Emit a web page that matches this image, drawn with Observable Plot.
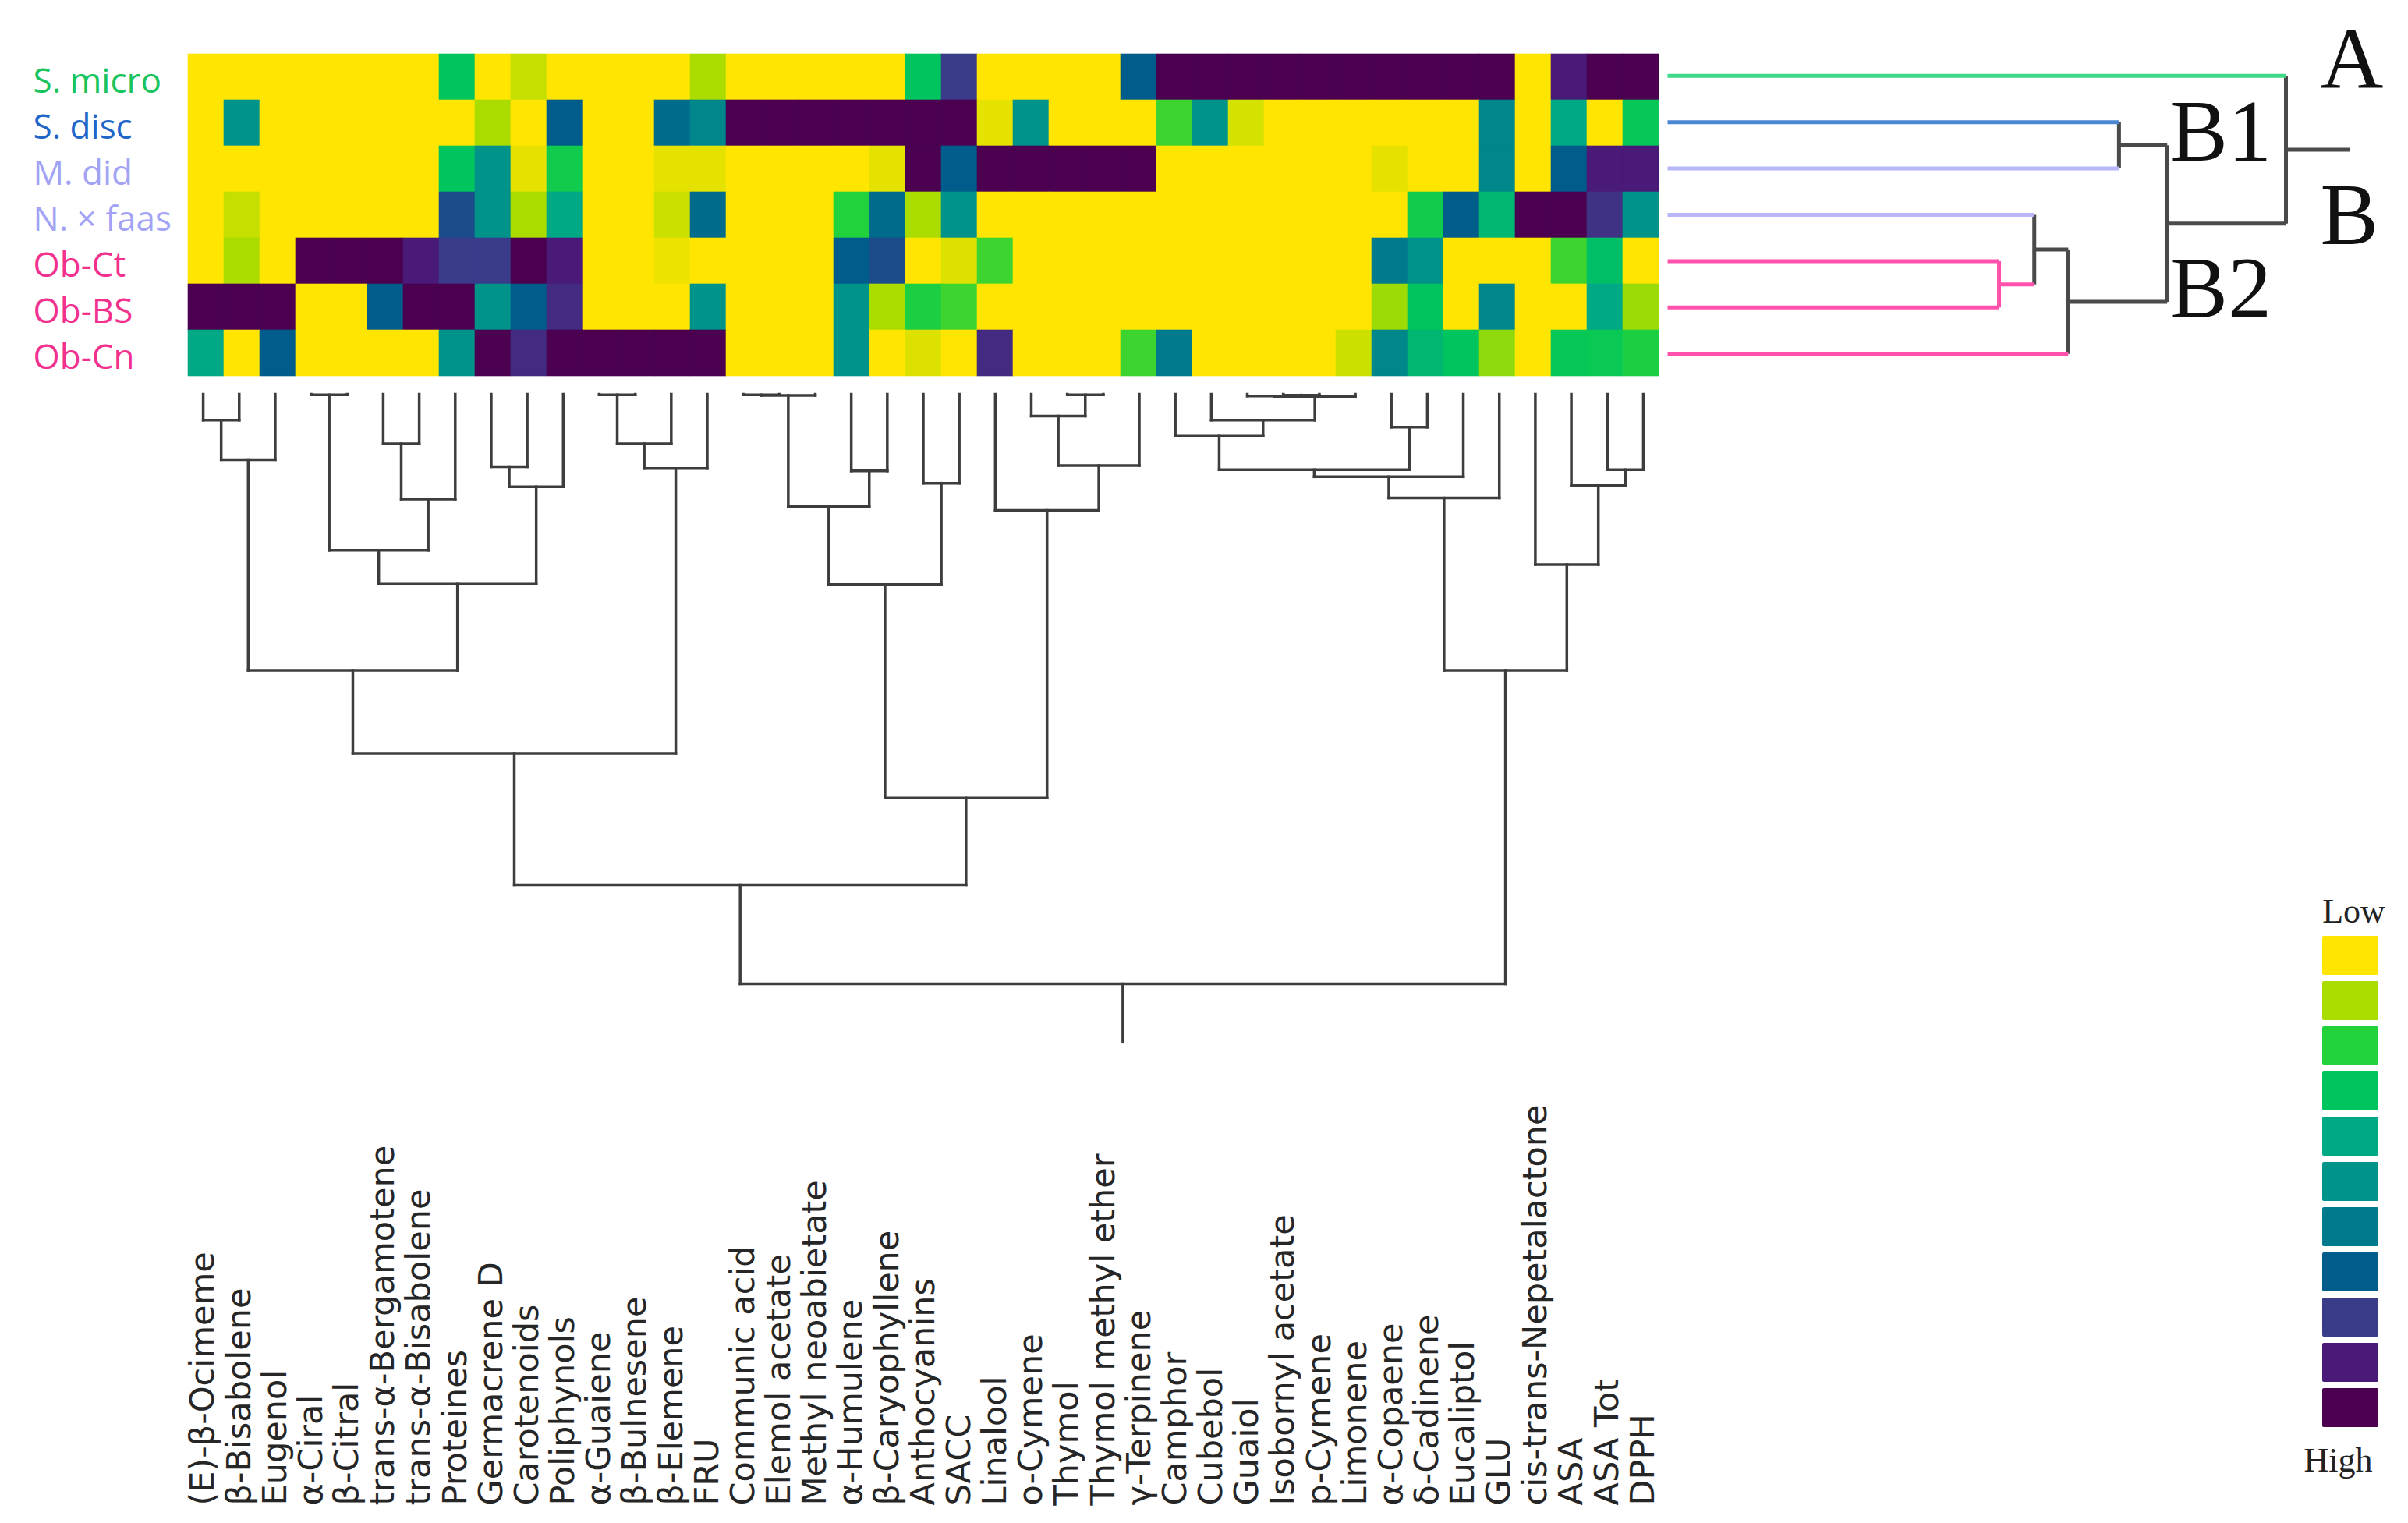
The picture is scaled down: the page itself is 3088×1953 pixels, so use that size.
<!DOCTYPE html>
<html>
<head>
<meta charset="utf-8">
<script src="https://cdn.jsdelivr.net/npm/d3@7"></script>
<script src="https://cdn.jsdelivr.net/npm/@observablehq/plot@0.6"></script>
<style>
  body { margin: 0; background: #fff; }
  #chart { position: relative; width: 3088px; height: 1953px; background: #fff; overflow: hidden; }
  #chart svg { position: absolute; max-width: none; overflow: visible; background: transparent; }
</style>
</head>
<body>
<div id="chart"></div>
<script>
// ---------------- DATA ----------------
const compounds = [
  "(E)-β-Ocimeme", "β-Bisabolene", "Eugenol", "α-Ciral", "β-Citral",
  "trans-α-Bergamotene", "trans-α-Bisabolene", "Proteines", "Germacrene D", "Carotenoids",
  "Poliphynols", "α-Guaiene", "β-Bulnesene", "β-Elemene", "FRU",
  "Communic acid", "Elemol acetate", "Methyl neoabietate", "α-Humulene", "β-Caryophyllene",
  "Anthocyanins", "SACC", "Linalool", "o-Cymene", "Thymol",
  "Thymol methyl ether", "γ-Terpinene", "Camphor", "Cubebol", "Guaiol",
  "Isobornyl acetate", "p-Cymene", "Limonene", "α-Copaene", "δ-Cadinene",
  "Eucaliptol", "GLU", "cis-trans-Nepetalactone", "ASA", "ASA Tot", "DPPH"
];

const species = ["S. micro", "S. disc", "M. did", "N. × faas", "Ob-Ct", "Ob-BS", "Ob-Cn"];
const speciesGroup = ["micro", "disc", "did", "did", "ob", "ob", "ob"];

// relative level, 0 = Low (yellow) ... 10 = High (dark purple)
const sMicro = [0,0,0,0,0,0,0,3,0,0.7, 0,0,0,0,1,0,0,0,0,0, 3,8,0,0,0,0,7,10,10,10, 10,10,10,10,10,10,10,0,9,10,10];
const sDisc  = [0,5,0,0,0,0,0,0,1,0, 7,0,0,6.5,5.5,10,10,10,10,10, 10,10,0.3,5,0,0,0,1.8,5,0.5, 0,0,0,0,0,0,5.5,0,4,0,2.8];
const mDid   = [0,0,0,0,0,0,0,3,5,0.3, 2.5,0,0,0.3,0.3,0,0,0,0,0.3, 10,7,10,10,10,10,10,0,0,0, 0,0,0,0.3,0,0,5.5,0,7,9,9];
const nFaas  = [0,0.7,0,0,0,0,0,7.5,5,1, 4,0,0,0.6,6.5,0,0,0,2,6.5, 1,5,0,0,0,0,0,0,0,0, 0,0,0,0,2.5,7,3.5,10,10,8.3,5];
const obCt   = [0,1,0,10,10,10,9,8,8,10, 9,0,0,0.2,0,0,0,0,7,7.5, 0,0.4,1.8,0,0,0,0,0,0,0, 0,0,0,6,5,0,0,0,1.8,3.2,0];
const obBS   = [10,10,10,0,0,7,10,10,5,7, 8.5,0,0,0,5,0,0,0,5,1, 2.2,1.8,0,0,0,0,0,0,0,0, 0,0,0,1.1,3,0,5.5,0,0,4,1.1];
const obCn   = [4,0,7,0,0,0,0,5,10,8.5, 10,10,10,10,10,0,0,0,5,0, 0.4,0,8.5,0,0,0,1.8,6,0,0, 0,0,0.6,5.5,3.5,3,1.2,0,2.8,2.7,2.2];

// legend levels
const legendLevels = [0,1,2,3,4,5,6,7,8,9,10];
const legendLow = "Low";
const legendHigh = "High";

// column dendrogram: [childA, childB, height]; leaves 0..40, merged nodes 41..
const colMerges = [
  [0,1,4.4],[41,2,11.1],[3,4,0.1],[5,6,8.4],[44,7,17.8],[43,45,26.5],[8,9,12.3],[47,10,15.7],
  [46,48,32.1],[42,49,46.9],[11,12,0.1],[51,13,8.4],[52,14,12.6],[50,53,60.9],[15,16,0.1],[55,17,0.2],
  [18,19,13.0],[56,57,19.0],[20,21,15.1],[58,59,32.3],[24,25,0.1],[23,61,3.7],[62,26,12.1],[22,63,19.7],
  [60,64,68.5],[54,65,83.2],[30,31,0.15],[29,67,0.3],[68,32,0.4],[28,69,4.4],[27,70,7.1],[33,34,5.6],
  [71,72,12.8],[73,35,14.0],[74,36,17.6],[39,40,12.8],[38,76,15.5],[37,77,28.9],[75,78,46.9],[66,79,100]
];
const colRootStub = 9.9;

// row dendrogram: leaves 0..6 (species), merged nodes 7..
const rowMerges = [[4,5,53.6],[3,7,59.3],[8,6,64.8],[1,2,73.0],[10,9,80.8],[0,11,100]];
const rowRootStub = 10.3;
const clusterNames = ["A", "B", "B1", "B2"];

// ---------------- STYLE ----------------
const legendColors = ["#ffe500","#aadc00","#22d23c","#00c45e","#00a985","#00938a","#007a8c","#005c8a","#3a3c8a","#4a1a78","#4b0050"];
const labelColor = {micro: "#19c45c", disc: "#1f66c8", did: "#a3a3f5", ob: "#f2318f"};
const lineColor  = {micro: "#3ed987", disc: "#4a86d2", did: "#b6b6f9", ob: "#ff52ac"};
const gray = "#4a4a4a";
const colorScale = {type: "linear", domain: legendLevels, range: legendColors, interpolate: "rgb"};

const chart = document.getElementById("chart");
function place(svg, left, top) {
  svg.style.left = left + "px";
  svg.style.top = top + "px";
  chart.appendChild(svg);
}

function layoutTree(merges, nLeaves) {
  const pos = d3.range(nLeaves);
  const ht = new Array(nLeaves).fill(0);
  const nodes = [];
  merges.forEach(([a, b, h], k) => {
    const id = nLeaves + k;
    pos[id] = (pos[a] + pos[b]) / 2;
    ht[id] = h;
    nodes.push({id, a, b, h});
  });
  return {pos, ht, nodes};
}

// ---------------- HEATMAP ----------------
const rows = [sMicro, sDisc, mDid, nFaas, obCt, obBS, obCn];
const cells = rows.flatMap((vals, r) => vals.map((v, c) => ({species: species[r], compound: compounds[c], value: v})));

const heat = Plot.plot({
  width: 2130, height: 490,
  marginLeft: 237, marginRight: 0, marginTop: 67, marginBottom: 7,
  x: {type: "band", domain: compounds, padding: 0, axis: null},
  y: {type: "band", domain: species, padding: 0, axis: null},
  color: colorScale,
  marks: [
    Plot.cell(cells, {x: "compound", y: "species", fill: "value", stroke: "value", strokeWidth: 0.6}),
    ...species.map((s, i) => Plot.text([s], {
      y: d => d, frameAnchor: "left", textAnchor: "start", dx: -195, dy: 6,
      fill: labelColor[speciesGroup[i]], fontSize: 44, fontFamily: "Open Sans"
    }))
  ]
});
place(heat, 0, 0);

// ---------------- COLUMN DENDROGRAM + LABELS ----------------
const colTree = layoutTree(colMerges, compounds.length);
const colSegs = [];
colTree.nodes.forEach(n => {
  colSegs.push({x1: colTree.pos[n.a], x2: colTree.pos[n.b], y1: n.h, y2: n.h});
  for (const c of [n.a, n.b]) colSegs.push({x1: colTree.pos[c], x2: colTree.pos[c], y1: colTree.ht[c], y2: n.h});
});
const colRoot = colTree.nodes[colTree.nodes.length - 1];
colSegs.push({x1: colTree.pos[colRoot.id], x2: colTree.pos[colRoot.id], y1: colRoot.h, y2: colRoot.h + colRootStub});

const dendro = Plot.plot({
  width: 2150, height: 1463,
  marginLeft: 237, marginRight: 20, marginTop: 15, marginBottom: 23,
  x: {domain: [-0.5, compounds.length - 0.5], axis: null},
  y: {domain: [0, 100], range: [15, 771], axis: null},
  marks: [
    Plot.link(colSegs, {x1: "x1", y1: "y1", x2: "x2", y2: "y2", stroke: "#3d3d3d", strokeWidth: 3.5, strokeLinecap: "square"}),
    Plot.text(compounds, {
      x: (d, i) => i, frameAnchor: "bottom", rotate: -90, textAnchor: "start", lineAnchor: "middle",
      fontSize: 43, fontFamily: "DejaVu Sans", fill: "#262626"
    })
  ]
});
place(dendro, 0, 490);

// ---------------- ROW DENDROGRAM ----------------
const rowTree = layoutTree(rowMerges, species.length);
const nodeColor = species.map((s, i) => lineColor[speciesGroup[i]]);
const isLeafColored = species.map(() => true);
rowTree.nodes.forEach(n => {
  const same = nodeColor[n.a] === nodeColor[n.b] && isLeafColored[n.a] && isLeafColored[n.b];
  nodeColor[n.id] = same ? nodeColor[n.a] : gray;
  isLeafColored[n.id] = same;
});
const rowSegs = [];
rowTree.nodes.forEach(n => {
  rowSegs.push({x1: n.h, x2: n.h, y1: rowTree.pos[n.a], y2: rowTree.pos[n.b], c: nodeColor[n.id]});
  for (const ch of [n.a, n.b]) rowSegs.push({x1: rowTree.ht[ch], x2: n.h, y1: rowTree.pos[ch], y2: rowTree.pos[ch], c: nodeColor[ch]});
});
const rowRoot = rowTree.nodes[rowTree.nodes.length - 1];
rowSegs.push({x1: rowRoot.h, x2: rowRoot.h + rowRootStub, y1: rowTree.pos[rowRoot.id], y2: rowTree.pos[rowRoot.id], c: gray});

const nodeB = rowRoot.b;                       // cluster B
const nodeBobj = rowTree.nodes.find(n => n.id === nodeB);
const anchors = {
  "A":  {x: rowRoot.h, y: rowTree.pos[rowRoot.a], dx: 44, dy: -20},
  "B":  {x: rowRoot.h, y: rowTree.pos[nodeB], dx: 44, dy: -9},
  "B1": {x: nodeBobj.h, y: rowTree.pos[nodeBobj.a], dx: 3, dy: -16},
  "B2": {x: nodeBobj.h, y: rowTree.pos[nodeBobj.b], dx: 3, dy: -16}
};

const rowDendro = Plot.plot({
  width: 958, height: 490,
  marginLeft: 8, marginRight: 0, marginTop: 67, marginBottom: 7,
  x: {domain: [0, 100], range: [8, 801], axis: null},
  y: {domain: [-0.5, species.length - 0.5], range: [67, 483], axis: null},
  color: {type: "identity"},
  marks: [
    Plot.link(rowSegs, {x1: "x1", y1: "y1", x2: "x2", y2: "y2", stroke: "c", strokeWidth: 5, strokeLinecap: "butt"}),
    ...clusterNames.map(name => Plot.text([name], {
      x: d => anchors[d].x, y: d => anchors[d].y, dx: anchors[name].dx, dy: anchors[name].dy,
      textAnchor: "start", lineAnchor: "middle", fontSize: 112, fontFamily: "Liberation Serif", fill: "#111"
    }))
  ]
});
place(rowDendro, 2130, 0);

// ---------------- LEGEND ----------------
const legend = Plot.plot({
  width: 148, height: 800,
  marginLeft: 38, marginRight: 38, marginTop: 76, marginBottom: 86,
  y: {type: "band", domain: legendLevels, padding: 0, axis: null},
  color: colorScale,
  marks: [
    Plot.cell(legendLevels, {y: d => d, fill: d => d, insetTop: 4, insetBottom: 4, rx: 2}),
    Plot.text([legendLow], {frameAnchor: "top", lineAnchor: "bottom", dx: 4, dy: -14, fontSize: 44, fontFamily: "Liberation Serif", fill: "#222"}),
    Plot.text([legendHigh], {frameAnchor: "bottom", lineAnchor: "top", dx: -16, dy: 21, fontSize: 44, fontFamily: "Liberation Serif", fill: "#222"})
  ]
});
place(legend, 2940, 1120);
</script>
</body>
</html>
